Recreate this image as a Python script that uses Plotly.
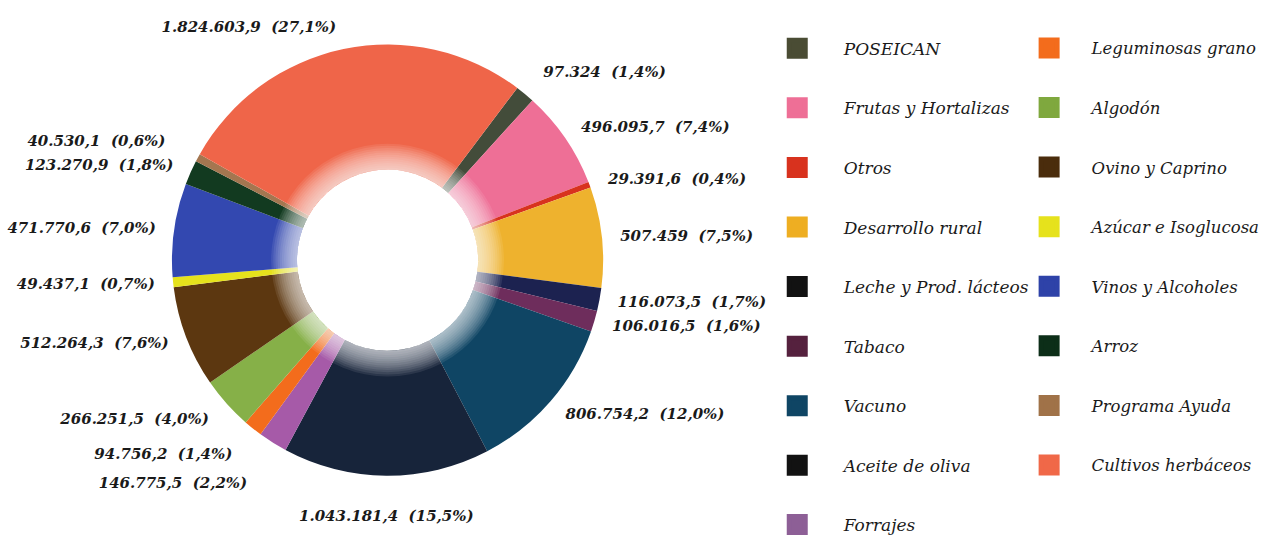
import math
import plotly.graph_objects as go

categories = ["POSEICAN", "Frutas y Hortalizas", "Otros", "Desarrollo rural",
              "Leche y Prod. lácteos", "Tabaco", "Vacuno", "Aceite de oliva", "Forrajes",
              "Leguminosas grano", "Algodón", "Ovino y Caprino", "Azúcar e Isoglucosa",
              "Vinos y Alcoholes", "Arroz", "Programa Ayuda", "Cultivos herbáceos"]
values = [97324, 496095.7, 29391.6, 507459,
          116073.5, 106016.5, 806754.2, 1043181.4, 146775.5,
          94756.2, 266251.5, 512264.3, 49437.1,
          471770.6, 123270.9, 40530.1, 1824603.9]
colors = ["#434c3a", "#ee6f96", "#d8321e", "#eeb22e",
          "#1c2250", "#6e2d5c", "#0f4564", "#17243a", "#a65aa8",
          "#f36c1c", "#86b048", "#5c3710", "#e6e21c",
          "#3348b0", "#123a20", "#a47650", "#ef6549"]
legend_colors = ["#4a4c34", "#ee6f96", "#d8321e", "#eeae22",
                 "#121212", "#55213e", "#0f4564", "#121212", "#8d5f96",
                 "#f36c1c", "#7fa83e", "#4a2c0c", "#e6e21c",
                 "#2e42a8", "#0c2e18", "#a07248", "#f06848"]
rows_first_column = 9
# distance (px) of each value label from the ring; None -> centred label under the ring
label_gap = [22, 14, 14, 14, 14, 14, 14, None, 40,
             26, 18, 14, 14, 14, 14, 32, 14]


def es_num(v):
    if float(v).is_integer():
        s = f"{int(v):,}"
    else:
        s = f"{v:,.1f}"
    return s.replace(",", "X").replace(".", ",").replace("X", ".")


total = sum(values)
labels_text = []
for v in values:
    pct = f"{v / total * 100:.1f}".replace(".", ",")
    labels_text.append(f"{es_num(v)}\u00a0\u00a0({pct}%)")

W, H = 1267, 543
cx, cy, r = 388, 261, 218
hole = 0.42
rotation = 37
label_font = dict(family="DejaVu Serif", size=15, color="#1a1a1a", weight="bold", style="italic")


def dom(rad):
    return dict(x=[max(0, (cx - rad) / W), min(1, (cx + rad) / W)],
                y=[max(0, 1 - (cy + rad) / H), min(1, 1 - (cy - rad) / H)])


fig = go.Figure()
fig.add_trace(go.Pie(
    labels=categories, values=values, textinfo="none",
    marker=dict(colors=colors, line=dict(width=0)),
    hole=hole, sort=False, direction="clockwise", rotation=rotation,
    domain=dom(r), showlegend=False, hoverinfo="label+value+percent",
))

# soft white glow along the inner edge of the ring
for k in range(1, 13):
    outer = hole + 0.01 * k
    fig.add_trace(go.Pie(
        values=[1], labels=["glow"], textinfo="none", sort=False,
        marker=dict(colors=["rgba(255,255,255,0.085)"], line=dict(width=0)),
        hole=hole / outer, domain=dom(r * outer),
        showlegend=False, hoverinfo="skip",
    ))

# transparent rings that only carry the outside value labels
for g in sorted({g for g in label_gap if g is not None}):
    fig.add_trace(go.Pie(
        labels=categories, values=values, text=labels_text,
        textinfo="text",
        textposition=["outside" if lg == g else "none" for lg in label_gap],
        outsidetextfont=label_font,
        marker=dict(colors=["rgba(0,0,0,0)"] * len(values), line=dict(width=0)),
        hole=0.95, sort=False, direction="clockwise", rotation=rotation,
        domain=dom(r + g), showlegend=False, hoverinfo="skip",
    ))

# labels centred under the ring, at the slice's mid angle
cum = 0.0
for v, t, lg in zip(values, labels_text, label_gap):
    mid = math.radians(rotation + 360 * (cum + v / 2) / total)
    cum += v
    if lg is None:
        R = r + 30
        px, py = cx + R * math.sin(mid), cy - R * math.cos(mid)
        fig.add_annotation(x=px / W, y=1 - py / H, xref="paper", yref="paper",
                           text=t, showarrow=False, xanchor="center",
                           yanchor="top" if math.cos(mid) < 0 else "bottom",
                           font=label_font)

# legend: two columns, one single-entry legend per row
row_top, row_step, item_offset = 48, 60.25, 19
col_x = [753.5, 1011]
col_itemwidth = [83, 75]
col_font = [17, 16.5]
layout_legends = {}
for i, (name, col) in enumerate(zip(categories, legend_colors)):
    c = 0 if i < rows_first_column else 1
    row = i if c == 0 else i - rows_first_column
    key = "legend" if i == 0 else f"legend{i + 1}"
    fig.add_trace(go.Scatter(
        x=[None], y=[None], mode="markers", name=name,
        marker=dict(symbol="square", size=16, color=col, line=dict(width=5, color=col)),
        legend=key, showlegend=True,
    ))
    top = row_top + row * row_step - item_offset
    layout_legends[key] = dict(
        x=col_x[c] / W, y=1 - top / H, xanchor="left", yanchor="top",
        itemwidth=col_itemwidth[c], tracegroupgap=0,
        font=dict(family="DejaVu Serif", size=col_font[c], color="#1a1a1a", style="italic"),
        bgcolor="rgba(0,0,0,0)", itemclick=False, itemdoubleclick=False)

fig.update_layout(
    width=W, height=H,
    margin=dict(l=0, r=0, t=0, b=0),
    paper_bgcolor="white", plot_bgcolor="white",
    xaxis=dict(visible=False), yaxis=dict(visible=False),
    **layout_legends,
)

fig.write_html("out.html")
